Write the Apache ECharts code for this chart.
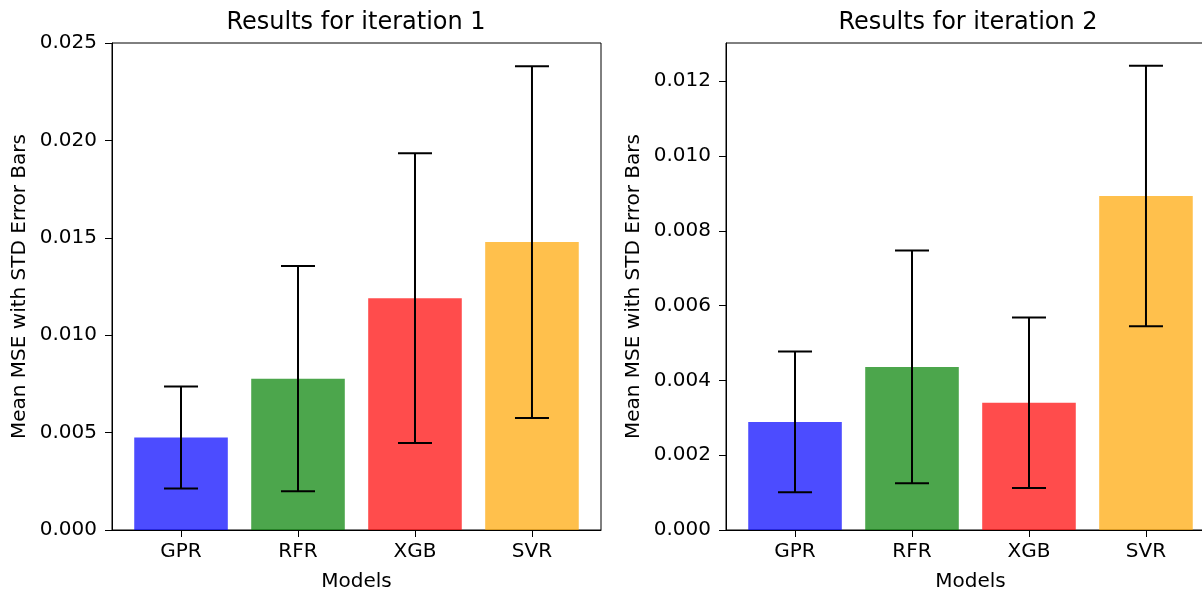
<!DOCTYPE html>
<html>
<head>
<meta charset="utf-8">
<script src="https://cdn.jsdelivr.net/npm/echarts@6/dist/echarts.min.js"></script>
<style>
  body { margin: 0; background: #fff; }
  #chart { width: 1202px; height: 592px; }
</style>
</head>
<body>
<div id="chart"></div>
<script>
// data
var models = ['GPR', 'RFR', 'XGB', 'SVR'];
var barColors = ['rgba(0,0,255,0.7)', 'rgba(0,128,0,0.7)', 'rgba(255,0,0,0.7)', 'rgba(255,165,0,0.7)'];
var mean1 = [0.00475, 0.00777, 0.01190, 0.01478];
var std1 = [0.00262, 0.00578, 0.00744, 0.00903];
var mean2 = [0.00289, 0.00436, 0.00340, 0.00893];
var std2 = [0.00188, 0.00311, 0.00228, 0.00348];
var ticks1 = [0, 0.005, 0.010, 0.015, 0.020, 0.025];
var ticks2 = [0, 0.002, 0.004, 0.006, 0.008, 0.010, 0.012];
var yMax1 = 0.025;
var yMax2 = 0.01302;
var xTicks = [0, 1, 2, 3];

var font = 'DejaVu Sans';

function barSeries(idx, means) {
  return {
    type: 'bar',
    xAxisIndex: idx,
    yAxisIndex: idx,
    barWidth: '80%',
    data: means.map(function (v, i) {
      return { value: [i, v], itemStyle: { color: barColors[i] } };
    }),
    z: 2
  };
}

function errSeries(idx, means, stds) {
  return {
    type: 'custom',
    xAxisIndex: idx,
    yAxisIndex: idx,
    z: 5,
    data: means.map(function (v, i) { return [i, v - stds[i], v + stds[i]]; }),
    renderItem: function (params, api) {
      var lo = api.coord([api.value(0), api.value(1)]);
      var hi = api.coord([api.value(0), api.value(2)]);
      var half = 17;
      var st = { stroke: '#000', lineWidth: 2 };
      return {
        type: 'group',
        children: [
          { type: 'line', shape: { x1: lo[0], y1: lo[1], x2: hi[0], y2: hi[1] }, style: st },
          { type: 'line', shape: { x1: lo[0] - half, y1: lo[1], x2: lo[0] + half, y2: lo[1] }, style: st },
          { type: 'line', shape: { x1: hi[0] - half, y1: hi[1], x2: hi[0] + half, y2: hi[1] }, style: st }
        ]
      };
    }
  };
}

function xAxis(idx) {
  return {
    type: 'value',
    gridIndex: idx,
    min: -0.59,
    max: 3.59,
    name: 'Models',
    nameLocation: 'middle',
    nameGap: 42,
    nameTextStyle: { fontFamily: font, fontSize: 20, color: '#000' },
    axisLine: { show: true, onZero: false, lineStyle: { color: '#000', width: 1 } },
    axisTick: { show: true, length: 7, lineStyle: { color: '#000' }, customValues: xTicks },
    axisLabel: {
      fontFamily: font, fontSize: 20, color: '#000', margin: 12,
      customValues: xTicks,
      formatter: function (v) { return models[Math.round(v)]; }
    },
    splitLine: { show: false }
  };
}

function yAxis(idx, max, interval, ticks) {
  return {
    type: 'value',
    gridIndex: idx,
    min: 0,
    max: max,
    interval: interval,
    name: 'Mean MSE with STD Error Bars',
    nameLocation: 'middle',
    nameGap: 82,
    nameTextStyle: { fontFamily: font, fontSize: 20, color: '#000' },
    axisLine: { show: true, onZero: false, lineStyle: { color: '#000', width: 1 } },
    axisTick: { show: true, length: 7, lineStyle: { color: '#000' }, customValues: ticks },
    axisLabel: {
      fontFamily: font, fontSize: 20, color: '#000', margin: 15,
      customValues: ticks,
      formatter: function (v) { return v.toFixed(3); }
    },
    splitLine: { show: false }
  };
}

var chart = echarts.init(document.getElementById('chart'));
chart.setOption({
  animation: false,
  backgroundColor: '#fff',
  graphic: [
    { type: 'text', x: 356, y: 11, style: { text: 'Results for iteration 1', font: '24px "DejaVu Sans"', fill: '#000', textAlign: 'center' } },
    { type: 'text', x: 968, y: 11, style: { text: 'Results for iteration 2', font: '24px "DejaVu Sans"', fill: '#000', textAlign: 'center' } }
  ],
  grid: [
    { left: 112, top: 43, width: 489, height: 487, outerBoundsMode: 'none', show: true, borderColor: '#000', borderWidth: 1, backgroundColor: 'transparent' },
    { left: 726, top: 43, width: 489, height: 487, outerBoundsMode: 'none', show: true, borderColor: '#000', borderWidth: 1, backgroundColor: 'transparent' }
  ],
  xAxis: [xAxis(0), xAxis(1)],
  yAxis: [yAxis(0, yMax1, 0.005, ticks1), yAxis(1, yMax2, 0.002, ticks2)],
  series: [
    barSeries(0, mean1),
    errSeries(0, mean1, std1),
    barSeries(1, mean2),
    errSeries(1, mean2, std2)
  ]
});
</script>
</body>
</html>
